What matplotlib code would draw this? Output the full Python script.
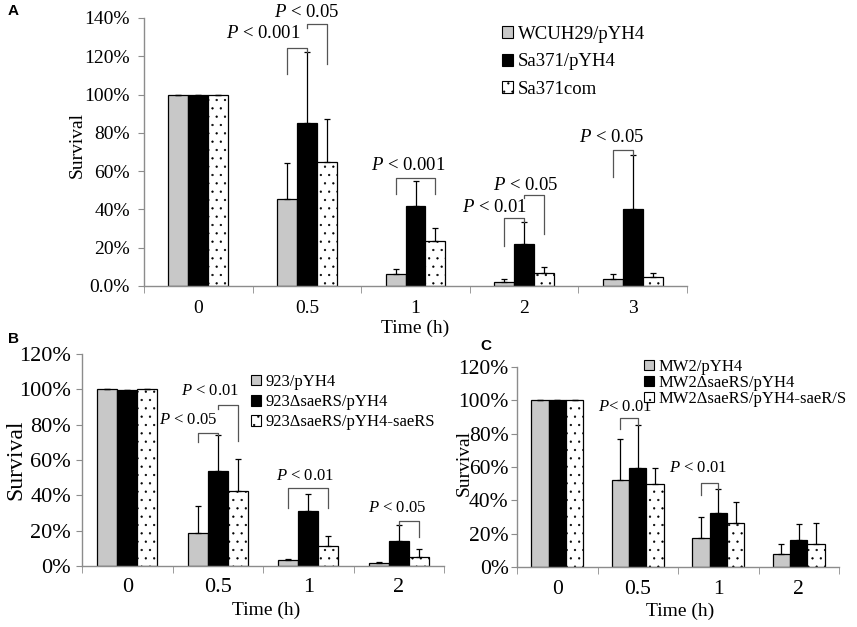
#Survival figure, three panels (A, B, C)
import numpy as np
import matplotlib
matplotlib.use("Agg")
import matplotlib.pyplot as plt
from matplotlib.patches import Patch

plt.rcParams['font.family'] = 'Liberation Serif'
plt.rcParams['mathtext.fontset'] = 'custom'
plt.rcParams['mathtext.it'] = 'Liberation Serif:italic'
plt.rcParams['mathtext.rm'] = 'Liberation Serif'
plt.rcParams['hatch.linewidth'] = 0.4

#DATA
# panel A
a_times = ['0', '0.5', '1', '2', '3']
a_names = ['WCUH29/pYH4', 'Sa371/pYH4', 'Sa371com']
a_wcuh = [1.00, 0.452, 0.063, 0.023, 0.038]
a_wcuh_sd = [0.0, 0.19, 0.024, 0.012, 0.025]
a_sa371 = [1.00, 0.854, 0.419, 0.217, 0.403]
a_sa371_sd = [0.0, 0.368, 0.131, 0.118, 0.28]
a_com = [1.00, 0.65, 0.235, 0.069, 0.045]
a_com_sd = [0.0, 0.225, 0.069, 0.028, 0.024]
a_ticks = ['0.0%', '20%', '40%', '60%', '80%', '100%', '120%', '140%']

# panel B
b_times = ['0', '0.5', '1', '2']
b_names = ['923/pYH4', '923\u0394saeRS/pYH4', '923\u0394saeRS/pYH4-saeRS']
b_wt = [1.00, 0.187, 0.032, 0.019]
b_wt_sd = [0.0, 0.151, 0.006, 0.004]
b_mut = [0.995, 0.539, 0.312, 0.14]
b_mut_sd = [0.0, 0.202, 0.093, 0.09]
b_com = [1.00, 0.423, 0.113, 0.051]
b_com_sd = [0.0, 0.182, 0.057, 0.045]

# panel C
c_times = ['0', '0.5', '1', '2']
c_names = ['MW2/pYH4', 'MW2\u0394saeRS/pYH4', 'MW2\u0394saeRS/pYH4-saeR/S']
c_wt = [1.00, 0.52, 0.174, 0.076]
c_wt_sd = [0.0, 0.25, 0.126, 0.06]
c_mut = [1.00, 0.596, 0.326, 0.16]
c_mut_sd = [0.0, 0.254, 0.144, 0.10]
c_com = [1.00, 0.50, 0.264, 0.14]
c_com_sd = [0.0, 0.096, 0.126, 0.124]
bc_ticks = ['0%', '20%', '40%', '60%', '80%', '100%', '120%']

# significance brackets: (time index, bar1, bar2, top, leg1 end, leg2 end, text, text x, text y)
a_sig = [(1, 0, 1, 1.245, 1.106, 1.222, '$P$ < 0.001', 0.595, 1.32),
         (1, 1, 2, 1.37, 1.35, 1.162, '$P$ < 0.05', 1.0, 1.43),
         (2, 0, 2, 0.562, 0.48, 0.48, '$P$ < 0.001', 1.93, 0.631),
         (3, 0, 1, 0.353, 0.209, 0.335, '$P$ < 0.01', 2.733, 0.412),
         (3, 1, 2, 0.475, 0.46, 0.271, '$P$ < 0.05', 3.02, 0.527),
         (4, 0, 1, 0.713, 0.569, 0.683, '$P$ < 0.05', 3.81, 0.777)]
b_sig = [(1, 0, 1, 0.753, 0.70, 0.741, '$P$ < 0.05', 0.67, 0.828),
         (1, 1, 2, 0.913, 0.89, 0.705, '$P$ < 0.01', 0.91, 0.989),
         (2, 0, 2, 0.44, 0.327, 0.327, '$P$ < 0.01', 1.96, 0.507),
         (3, 1, 2, 0.255, 0.23, 0.166, '$P$ < 0.05', 2.98, 0.327)]
c_sig = [(1, 0, 1, 0.896, 0.826, 0.85, '$P$< 0.01', 0.84, 0.958),
         (2, 0, 1, 0.502, 0.432, 0.47, '$P$ < 0.01', 1.75, 0.592)]

W, H = 857, 627
GRAY = '#c8c8c8'
AXC = '#8c8c8c'


def px_axes(fig, left, top, right, bottom):
#makes an axes from pixel edges
    return fig.add_axes([left / W, 1 - bottom / H, (right - left) / W, (bottom - top) / H])


def draw_panel(ax, times, series, sds, barw, ymax, yticks, sig, tick_fs, sig_fs):
    x = np.arange(len(times))
    styles = [dict(color=GRAY), dict(color='black'), dict(color='white', hatch='..')]
    for i in range(3):
        xs = x + (i - 1) * barw
        ax.bar(xs, series[i], barw, edgecolor='black', linewidth=0.9, zorder=2, **styles[i])
        ax.errorbar(xs, series[i], yerr=[np.zeros(len(times)), sds[i]], fmt='none',
                    ecolor='black', elinewidth=0.9, capsize=2.5, capthick=0.9, zorder=3)
    for g, b1, b2, top, l1, l2, txt, tx, ty in sig:
        x1 = g + (b1 - 1) * barw
        x2 = g + (b2 - 1) * barw
        ax.plot([x1, x1, x2, x2], [l1, top, top, l2], color='#555555', lw=0.9,
                clip_on=False, zorder=4)
        ax.text(tx, ty, txt, ha='center', va='center', fontsize=sig_fs, clip_on=False)
    ax.set_xlim(-0.5, len(times) - 0.5)
    ax.set_ylim(0, ymax)
    ax.set_xticks(x)
    ax.set_xticklabels(times, fontsize=tick_fs)
    ax.set_xticks(np.arange(-0.5, len(times), 1), minor=True)
    ax.set_yticks(np.linspace(0, ymax, len(yticks)))
    ax.set_yticklabels(yticks, fontsize=tick_fs)
    ax.tick_params(axis='x', which='major', length=0)
    ax.tick_params(axis='x', which='minor', length=5, color=AXC, direction='out')
    ax.tick_params(axis='y', length=4, color=AXC, direction='out')
    for s in ['top', 'right']:
        ax.spines[s].set_visible(False)
    for s in ['left', 'bottom']:
        ax.spines[s].set_color(AXC)
        ax.spines[s].set_linewidth(1.0)


def add_legend(fig, names, left, top, fs, spacing):
    handles = [Patch(facecolor=GRAY, edgecolor='black', linewidth=0.8),
               Patch(facecolor='black', edgecolor='black', linewidth=0.8),
               Patch(facecolor='white', edgecolor='black', linewidth=0.8, hatch='..')]
    fig.legend(handles, names, loc='upper left', bbox_to_anchor=(left / W, 1 - top / H),
               bbox_transform=fig.transFigure, frameon=False, fontsize=fs,
               handlelength=0.6, handleheight=0.6, handletextpad=0.25,
               labelspacing=spacing, borderpad=0, borderaxespad=0)


fig = plt.figure(figsize=(W / 100, H / 100), dpi=100)

# panel A
axA = px_axes(fig, 144, 18, 687, 286)
draw_panel(axA, a_times, [a_wcuh, a_sa371, a_com], [a_wcuh_sd, a_sa371_sd, a_com_sd],
           0.184, 1.4, a_ticks, a_sig, 14, 13.5)
axA.tick_params(axis='x', which='major', pad=10)
axA.tick_params(axis='y', pad=6)
axA.set_xlabel('Time (h)', fontsize=14)
axA.xaxis.set_label_coords(0.5, -0.127)
axA.set_ylabel('Survival', fontsize=14)
axA.yaxis.set_label_coords(-0.107, 0.526)
add_legend(fig, a_names, 502, 26, 13.5, 0.55)

# panel B
axB = px_axes(fig, 82, 354, 444, 566)
draw_panel(axB, b_times, [b_wt, b_mut, b_com], [b_wt_sd, b_mut_sd, b_com_sd],
           0.22, 1.2, bc_ticks, b_sig, 16, 12)
axB.tick_params(axis='x', which='major', pad=9)
axB.tick_params(axis='y', pad=4)
axB.set_xlabel('Time (h)', fontsize=14)
axB.xaxis.set_label_coords(0.51, -0.17)
axB.set_ylabel('Survival', fontsize=17)
axB.yaxis.set_label_coords(-0.155, 0.5)
add_legend(fig, b_names, 251, 374, 12, 0.25)

# panel C
axC = px_axes(fig, 517, 367, 839, 567)
draw_panel(axC, c_times, [c_wt, c_mut, c_com], [c_wt_sd, c_mut_sd, c_com_sd],
           0.217, 1.2, bc_ticks, c_sig, 15.5, 12)
axC.tick_params(axis='x', which='major', pad=9)
axC.tick_params(axis='y', pad=2)
axC.set_xlabel('Time (h)', fontsize=14)
axC.xaxis.set_label_coords(0.506, -0.18)
axC.set_ylabel('Survival', fontsize=14)
axC.yaxis.set_label_coords(-0.137, 0.52)
add_legend(fig, c_names, 644, 359, 12, 0.0)

# panel letters
for letter, lx, ly in [('A', 8, 11), ('B', 8, 339), ('C', 480, 346)]:
    fig.text(lx / W, 1 - ly / H, letter, family='Liberation Sans', fontweight='bold',
             fontsize=11, ha='left', va='center')

fig.savefig('out.png', dpi=100)
